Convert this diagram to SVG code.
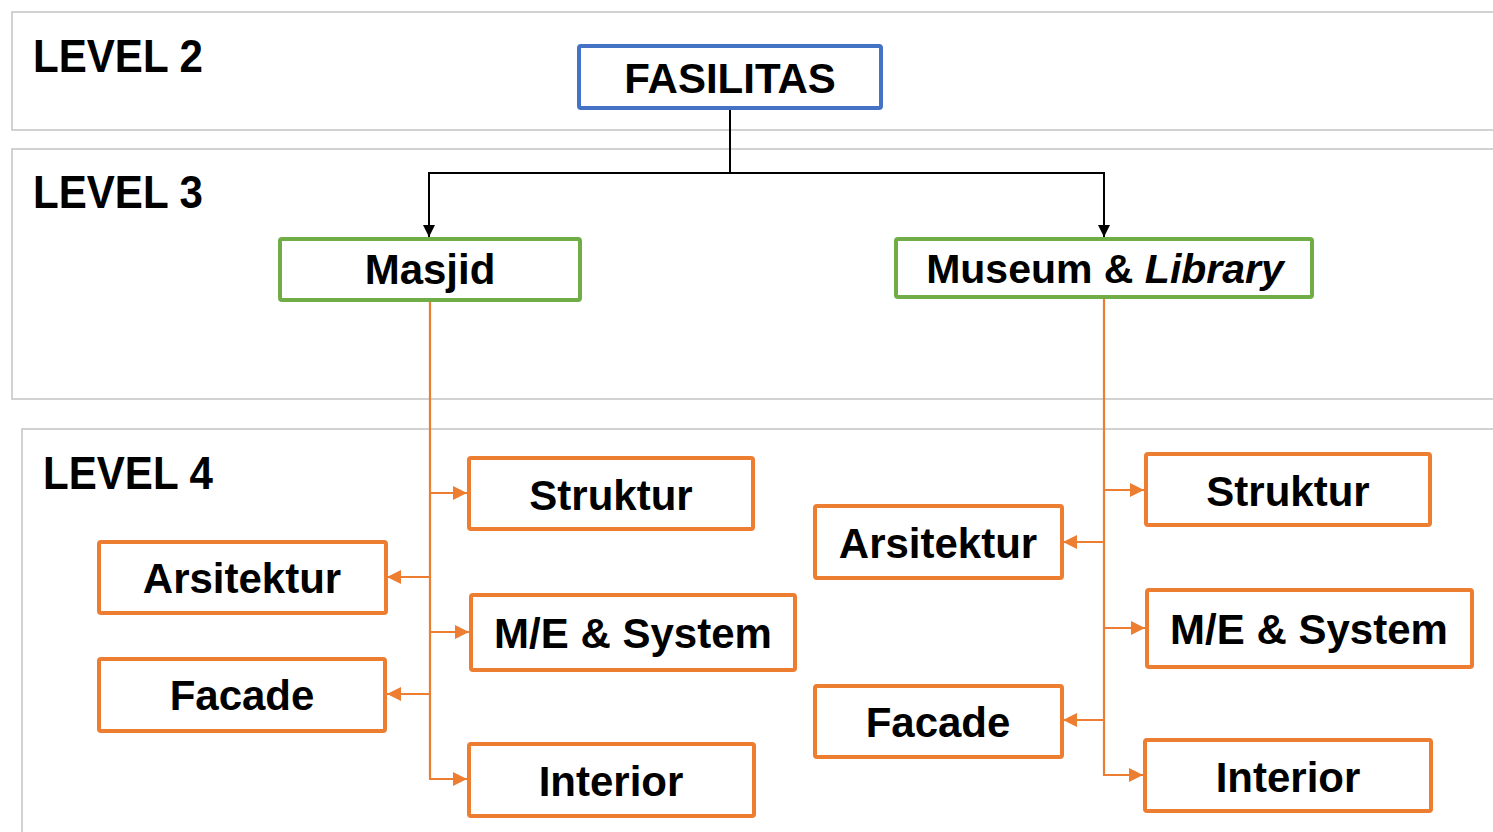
<svg xmlns="http://www.w3.org/2000/svg" width="1493" height="832" viewBox="0 0 1493 832">
<defs>
<style>
.frame{fill:#fff;stroke:#c3c3c3;stroke-width:1.5}
.lvl{font-family:"Liberation Sans",Arial,sans-serif;font-weight:bold;font-size:47px;fill:#000}
.box{fill:#fff;stroke-width:4}
.blue{stroke:#4472C4}
.green{stroke:#70AD47}
.orange{stroke:#ED7D31}
.t{font-family:"Liberation Sans",Arial,sans-serif;font-weight:bold;font-size:42px;fill:#000;text-anchor:middle}
.bk{fill:none;stroke:#000;stroke-width:2}
.or{fill:none;stroke:#ED7D31;stroke-width:2.2}
</style>
<marker id="ab" viewBox="0 0 12 12" refX="12" refY="6" markerWidth="12" markerHeight="13" markerUnits="userSpaceOnUse" orient="auto"><path d="M0,0 L12,6 L0,12 Z" fill="#000"/></marker>
<marker id="ao" viewBox="0 0 12 12" refX="12" refY="6" markerWidth="14" markerHeight="14" markerUnits="userSpaceOnUse" orient="auto"><path d="M0,0 L12,6 L0,12 Z" fill="#ED7D31"/></marker>
</defs>
<rect width="1493" height="832" fill="#fff"/>
<g id="frames">
<rect class="frame" x="12" y="12" width="1500" height="118"/>
<rect class="frame" x="12" y="149" width="1500" height="250"/>
<rect class="frame" x="22" y="429" width="1500" height="420"/>
<text class="lvl" x="33" y="72" textLength="170" lengthAdjust="spacingAndGlyphs">LEVEL 2</text>
<text class="lvl" x="33" y="208" textLength="170" lengthAdjust="spacingAndGlyphs">LEVEL 3</text>
<text class="lvl" x="43" y="489" textLength="170" lengthAdjust="spacingAndGlyphs">LEVEL 4</text>
</g>
<g id="connectors">
<path class="bk" d="M730,108 V173"/>
<path class="bk" d="M429,173 H1104"/>
<path class="bk" d="M429,172 V237" marker-end="url(#ab)"/>
<path class="bk" d="M1104,172 V237" marker-end="url(#ab)"/>
<path class="or" d="M430,300 V779"/>
<path class="or" d="M430,493 H467" marker-end="url(#ao)"/>
<path class="or" d="M430,577 H387" marker-end="url(#ao)"/>
<path class="or" d="M430,632 H469" marker-end="url(#ao)"/>
<path class="or" d="M430,694 H387" marker-end="url(#ao)"/>
<path class="or" d="M429,779 H467" marker-end="url(#ao)"/>
<path class="or" d="M1104,297 V775"/>
<path class="or" d="M1104,490 H1144" marker-end="url(#ao)"/>
<path class="or" d="M1104,542 H1063" marker-end="url(#ao)"/>
<path class="or" d="M1104,628 H1145" marker-end="url(#ao)"/>
<path class="or" d="M1104,720 H1063" marker-end="url(#ao)"/>
<path class="or" d="M1103,775 H1143" marker-end="url(#ao)"/>
</g>
<g id="fasilitas"><rect class="box blue" x="579" y="46" width="302" height="62" rx="2"/><text class="t" x="730" y="93" style="font-size:42px">FASILITAS</text></g>
<g id="masjid"><rect class="box green" x="280" y="239" width="300" height="61" rx="2"/><text class="t" x="430" y="284">Masjid</text></g>
<g id="museum"><rect class="box green" x="896" y="239" width="416" height="58" rx="2"/><text class="t" x="1105" y="283" style="font-size:41px">Museum &amp; <tspan font-style="italic">Library</tspan></text></g>
<g id="m-struktur"><rect class="box orange" x="469" y="458" width="284" height="71" rx="2"/><text class="t" x="611" y="510">Struktur</text></g>
<g id="m-arsitektur"><rect class="box orange" x="99" y="542" width="287" height="71" rx="2"/><text class="t" x="242" y="593">Arsitektur</text></g>
<g id="m-me"><rect class="box orange" x="471" y="595" width="324" height="75" rx="2"/><text class="t" x="633" y="648">M/E &amp; System</text></g>
<g id="m-facade"><rect class="box orange" x="99" y="659" width="286" height="72" rx="2"/><text class="t" x="242" y="710">Facade</text></g>
<g id="m-interior"><rect class="box orange" x="469" y="744" width="285" height="72" rx="2"/><text class="t" x="611" y="796">Interior</text></g>
<g id="l-struktur"><rect class="box orange" x="1146" y="454" width="284" height="71" rx="2"/><text class="t" x="1288" y="506">Struktur</text></g>
<g id="l-arsitektur"><rect class="box orange" x="815" y="506" width="247" height="72" rx="2"/><text class="t" x="938" y="558">Arsitektur</text></g>
<g id="l-me"><rect class="box orange" x="1147" y="590" width="325" height="77" rx="2"/><text class="t" x="1309" y="644">M/E &amp; System</text></g>
<g id="l-facade"><rect class="box orange" x="815" y="686" width="247" height="71" rx="2"/><text class="t" x="938" y="737">Facade</text></g>
<g id="l-interior"><rect class="box orange" x="1145" y="740" width="286" height="71" rx="2"/><text class="t" x="1288" y="792">Interior</text></g>
</svg>
